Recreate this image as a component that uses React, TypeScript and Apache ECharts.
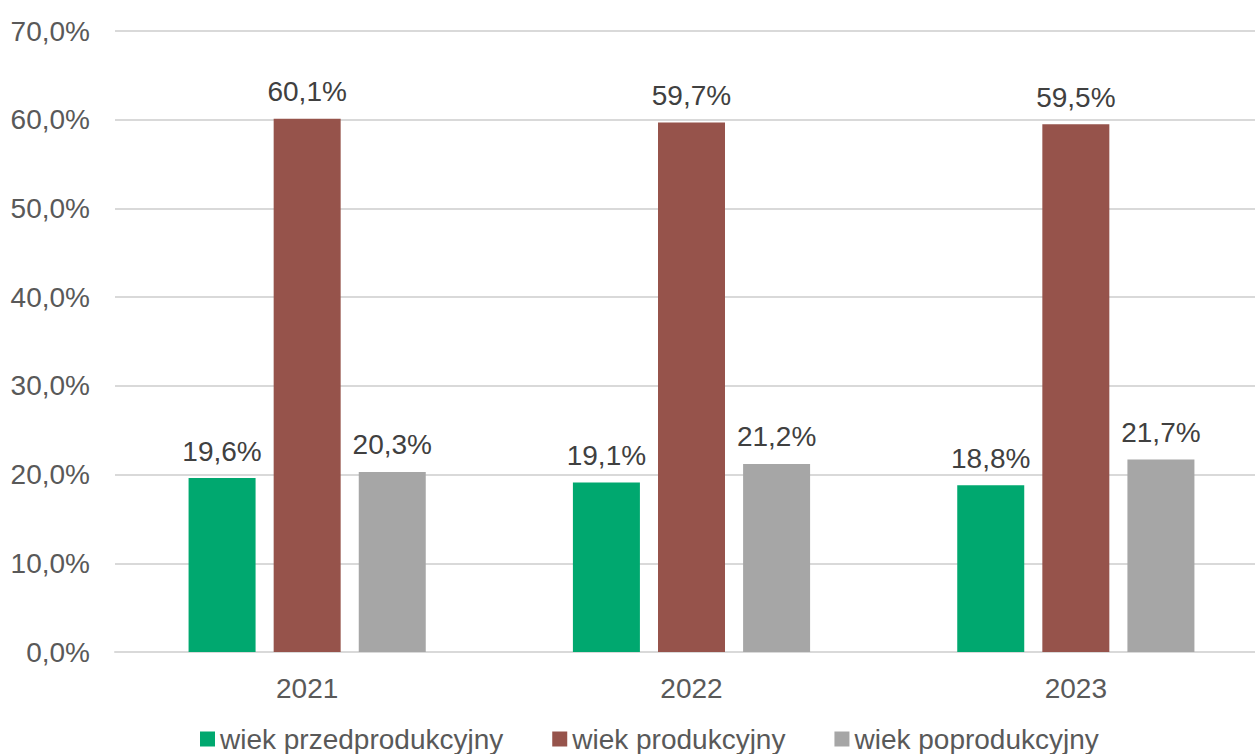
import React, { useEffect, useRef } from "react";
import * as echarts from "echarts";

const categories = ["2021", "2022", "2023"];
const seriesNames = ["wiek przedprodukcyjny", "wiek produkcyjny", "wiek poprodukcyjny"];
const przed = [19.6, 19.1, 18.8];
const prod = [60.1, 59.7, 59.5];
const poprod = [20.3, 21.2, 21.7];
const colors = ["#00A86F", "#96534B", "#A6A6A6"];

const fmt = (v: number) => v.toFixed(1).replace(".", ",") + "%";
const FONT = "'Liberation Sans', Arial, sans-serif";

export default function App() {
  const ref = useRef<HTMLDivElement>(null);
  useEffect(() => {
    if (!ref.current) return;
    const chart = echarts.init(ref.current, undefined, { renderer: "svg" });
    const data = [przed, prod, poprod];
    chart.setOption({
      animation: false,
      textStyle: { fontFamily: FONT },
      grid: { left: 115, width: 1153, top: 31, height: 621, containLabel: false },
      legend: {
        top: 720,
        left: 195,
        icon: "rect",
        itemWidth: 15,
        itemHeight: 15,
        itemGap: 49,
        textStyle: { fontSize: 28, color: "#595959", fontFamily: FONT },
        data: seriesNames,
      },
      xAxis: {
        type: "category",
        data: categories,
        axisTick: { show: false },
        axisLine: { lineStyle: { color: "#D9D9D9", width: 2 } },
        axisLabel: { fontSize: 28, color: "#595959", margin: 22, fontFamily: FONT },
      },
      yAxis: {
        type: "value",
        min: 0,
        max: 70,
        interval: 10,
        axisLabel: {
          fontSize: 28,
          color: "#595959",
          margin: 25,
          fontFamily: FONT,
          formatter: (v: number) => fmt(v),
        },
        splitLine: { lineStyle: { color: "#D9D9D9", width: 2 } },
        axisLine: { show: false },
        axisTick: { show: false },
      },
      series: seriesNames.map((name, i) => ({
        name,
        type: "bar",
        data: data[i],
        barWidth: 67,
        barGap: "27%",
        itemStyle: { color: colors[i] },
        label: {
          show: true,
          position: "top",
          distance: 13,
          fontSize: 28,
          color: "#404040",
          fontFamily: FONT,
          formatter: (p: any) => fmt(p.value),
        },
      })),
    });
    return () => chart.dispose();
  }, []);
  return (
    <div
      style={{ position: "absolute", left: 0, top: 0, width: 1255, height: 754, background: "#fff", overflow: "hidden" }}
    >
      <div ref={ref} style={{ width: 1272, height: 754 }} />
    </div>
  );
}
